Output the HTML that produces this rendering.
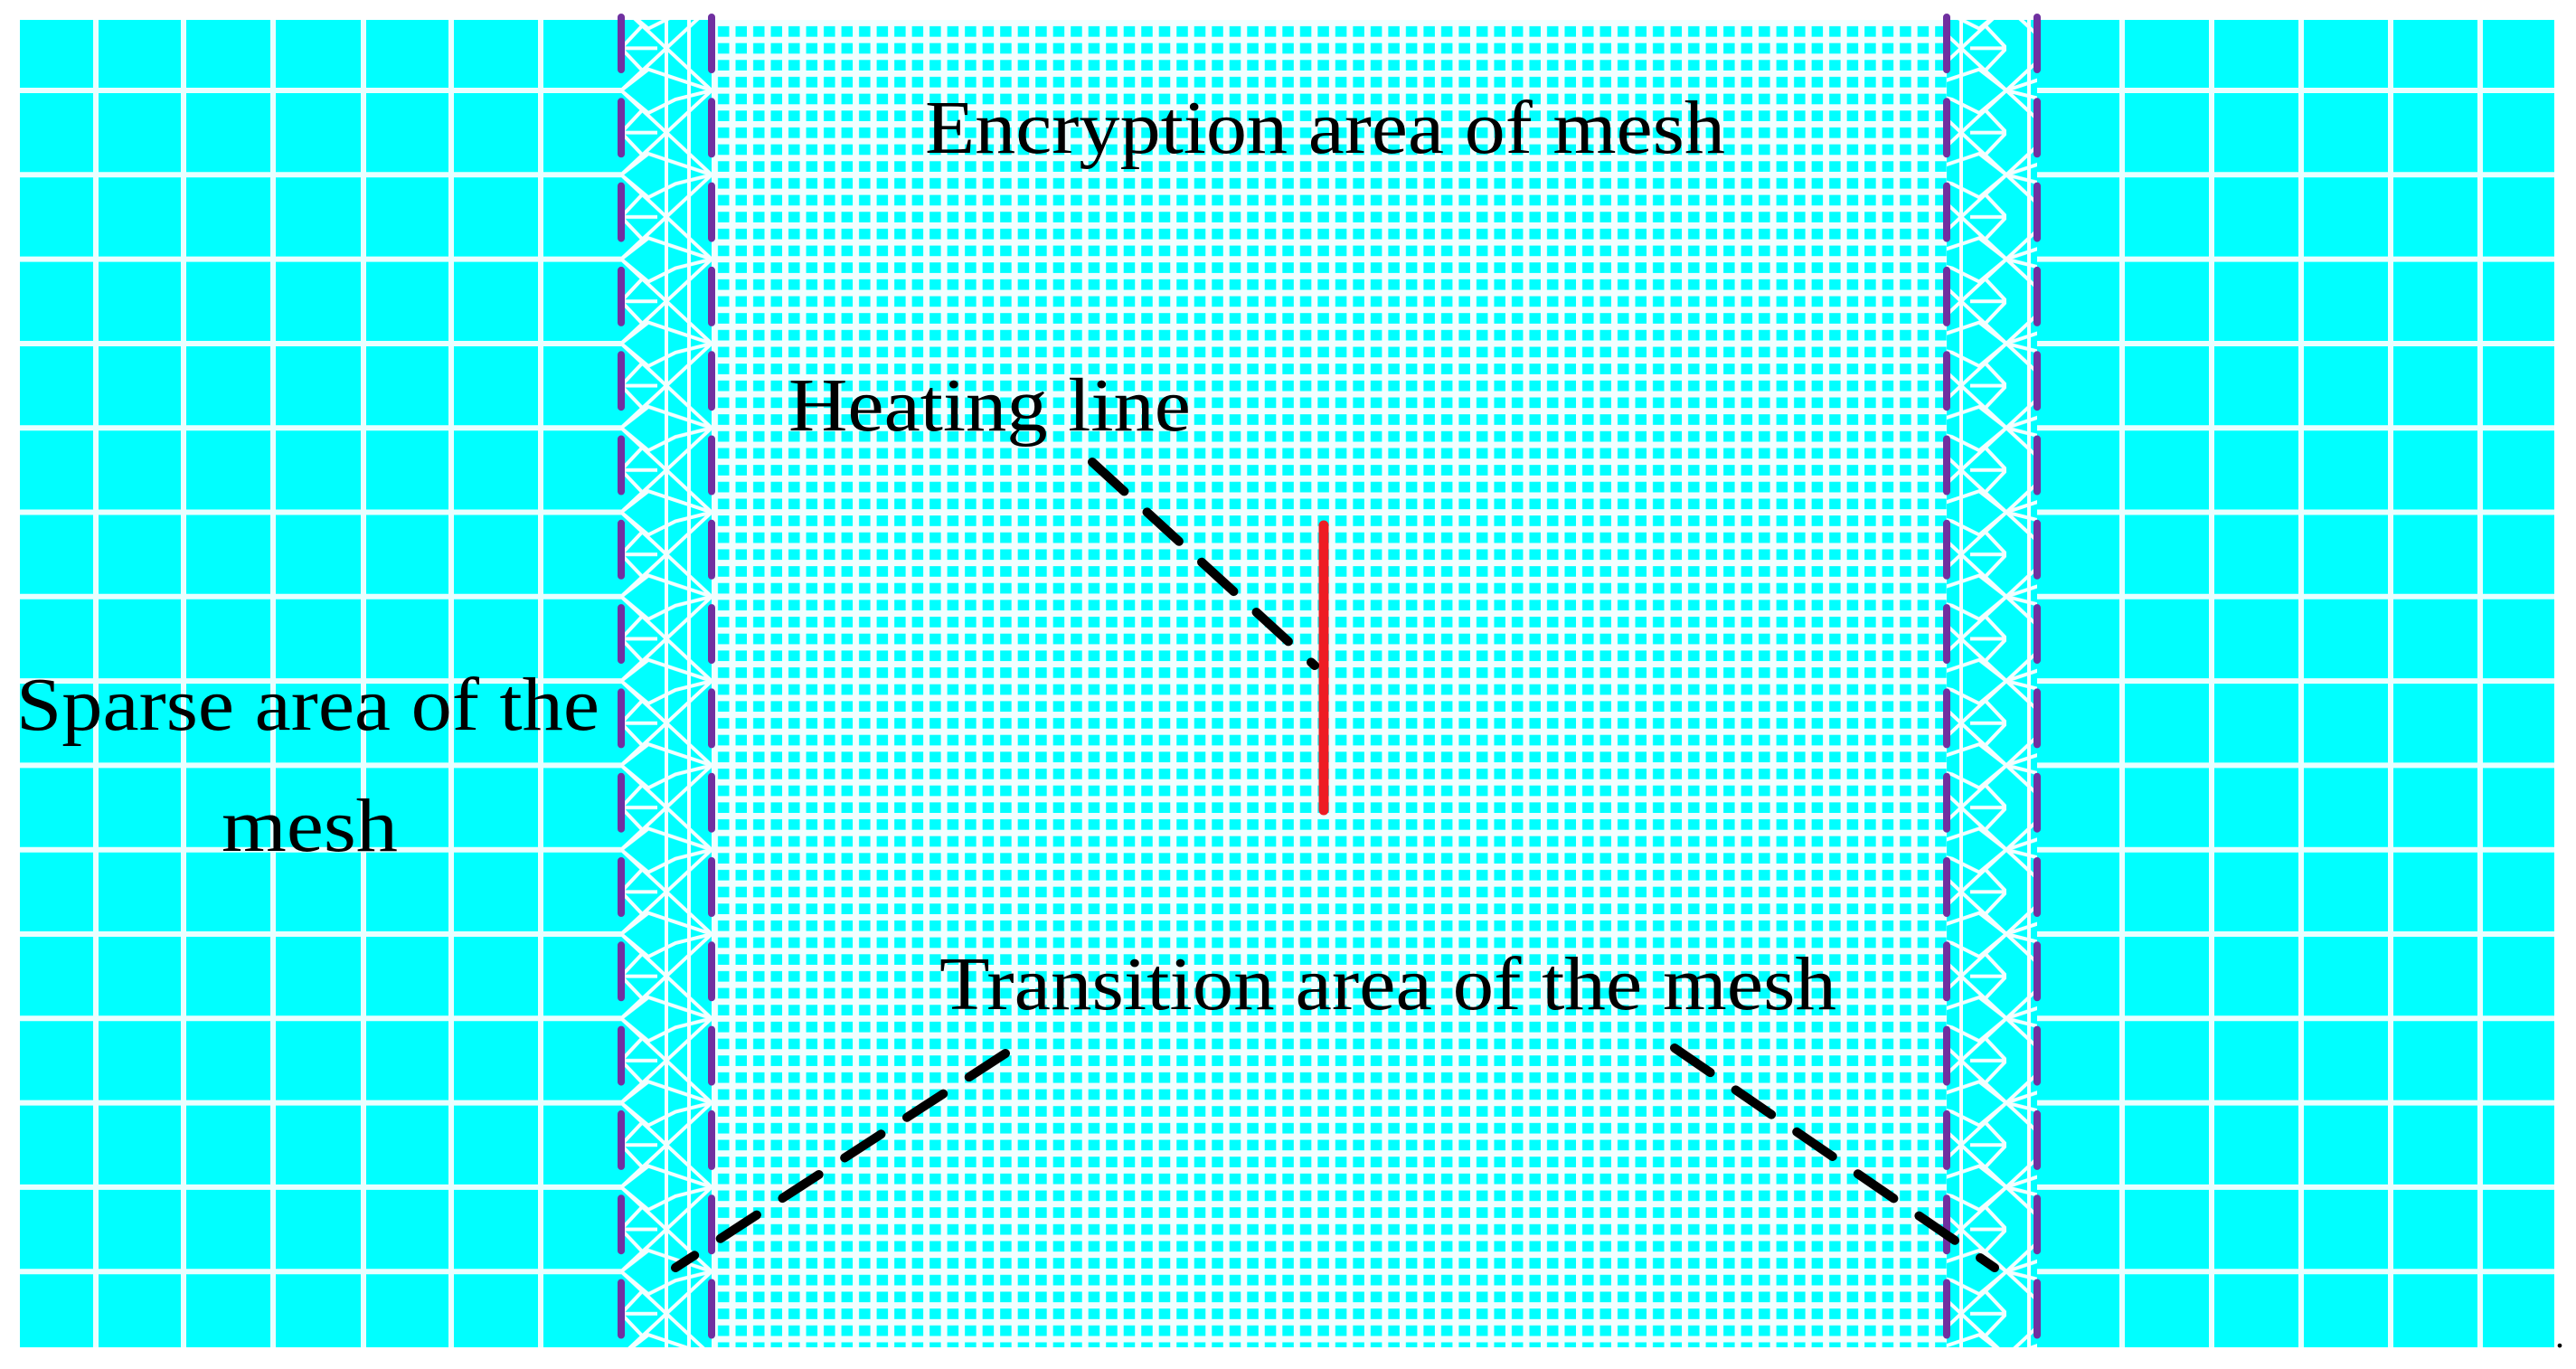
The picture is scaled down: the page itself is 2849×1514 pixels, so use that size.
<!DOCTYPE html>
<html><head><meta charset="utf-8"><style>html,body{margin:0;padding:0;background:#fff;}svg{display:block;}</style></head>
<body>
<svg width="2849" height="1514" viewBox="0 0 2849 1514" xmlns="http://www.w3.org/2000/svg">
<defs>
<pattern id="fine" x="787" y="22" width="19.51" height="18.66" patternUnits="userSpaceOnUse">
<rect width="19.51" height="18.66" fill="#00ffff"/>
<rect x="0" y="0" width="19.51" height="7" fill="#f0ffff"/>
<rect x="0" y="0" width="7" height="18.66" fill="#f0ffff"/>
</pattern>
<pattern id="trans" x="687" y="6.7" width="100" height="93.3" patternUnits="userSpaceOnUse">
<rect width="100" height="93.3" fill="#00ffff"/>
<g stroke="#f4ffff" stroke-width="4" fill="none">
<path d="M0 0 L50 46.6 L0 93.3 M50 46.6 L100 0 M50 46.6 L100 93.3 M0 0 L30 25 L60 10 L100 0 M0 93.3 L30 70 L60 80 L100 93.3 M50 0 L50 93.3 M75 0 L75 93.3"/>
<path d="M0 46.6 L25 20 M0 46.6 L25 73 M0 46.6 L40 46.6"/>
</g>
</pattern>
</defs>
<rect x="0" y="0" width="2849" height="1514" fill="#fff"/>
<rect x="22" y="22" width="2803" height="1468" fill="#00ffff"/>
<g stroke="#eaffff" stroke-width="6">
<line x1="106" y1="22" x2="106" y2="1490"/><line x1="203" y1="22" x2="203" y2="1490"/><line x1="302" y1="22" x2="302" y2="1490"/><line x1="402" y1="22" x2="402" y2="1490"/><line x1="499" y1="22" x2="499" y2="1490"/><line x1="598" y1="22" x2="598" y2="1490"/>
<line x1="2347" y1="22" x2="2347" y2="1490"/><line x1="2446" y1="22" x2="2446" y2="1490"/><line x1="2545" y1="22" x2="2545" y2="1490"/><line x1="2644" y1="22" x2="2644" y2="1490"/><line x1="2743" y1="22" x2="2743" y2="1490"/>
<line x1="22" y1="100" x2="2825" y2="100"/><line x1="22" y1="193.3" x2="2825" y2="193.3"/><line x1="22" y1="286.6" x2="2825" y2="286.6"/><line x1="22" y1="380" x2="2825" y2="380"/><line x1="22" y1="473.2" x2="2825" y2="473.2"/><line x1="22" y1="566.5" x2="2825" y2="566.5"/><line x1="22" y1="659.8" x2="2825" y2="659.8"/><line x1="22" y1="753.1" x2="2825" y2="753.1"/><line x1="22" y1="846.4" x2="2825" y2="846.4"/><line x1="22" y1="939.7" x2="2825" y2="939.7"/><line x1="22" y1="1033" x2="2825" y2="1033"/><line x1="22" y1="1126.3" x2="2825" y2="1126.3"/><line x1="22" y1="1219.6" x2="2825" y2="1219.6"/><line x1="22" y1="1312.9" x2="2825" y2="1312.9"/><line x1="22" y1="1406.2" x2="2825" y2="1406.2"/>
</g>
<rect x="687" y="22" width="100" height="1468" fill="url(#trans)"/>
<rect x="2153" y="22" width="100" height="1468" fill="url(#trans)" transform="translate(4406 0) scale(-1 1)"/>
<rect x="787" y="22" width="1366" height="1468" fill="url(#fine)"/>
<g stroke="#7030a0" stroke-width="8" stroke-linecap="round" stroke-dasharray="58 35.3">
<line x1="687" y1="19" x2="687" y2="1490"/><line x1="787" y1="19" x2="787" y2="1490"/>
<line x1="2153" y1="19" x2="2153" y2="1490"/><line x1="2253" y1="19" x2="2253" y2="1490"/>
</g>
<line x1="1464" y1="581" x2="1464" y2="896" stroke="#ee1c24" stroke-width="11" stroke-linecap="round"/>
<g stroke="#000" stroke-width="10" stroke-linecap="round" stroke-dasharray="48 34">
<line x1="1208" y1="511" x2="1454" y2="736"/>
<line x1="1112" y1="1165" x2="747" y2="1402"/>
<line x1="1852" y1="1159" x2="2206" y2="1402"/>
</g>
<g font-family="'Liberation Serif', serif" font-size="84" fill="#000">
<text x="1023" y="169" textLength="885" lengthAdjust="spacingAndGlyphs">Encryption area of mesh</text>
<text x="872" y="476" textLength="445" lengthAdjust="spacingAndGlyphs">Heating line</text>
<text x="18" y="807" textLength="645" lengthAdjust="spacingAndGlyphs">Sparse area of the</text>
<text x="245" y="941" textLength="195" lengthAdjust="spacingAndGlyphs">mesh</text>
<text x="1039" y="1116" textLength="992" lengthAdjust="spacingAndGlyphs">Transition area of the mesh</text>
<text x="2826" y="1490" font-size="40">.</text>
</g>
</svg>
</body></html>
